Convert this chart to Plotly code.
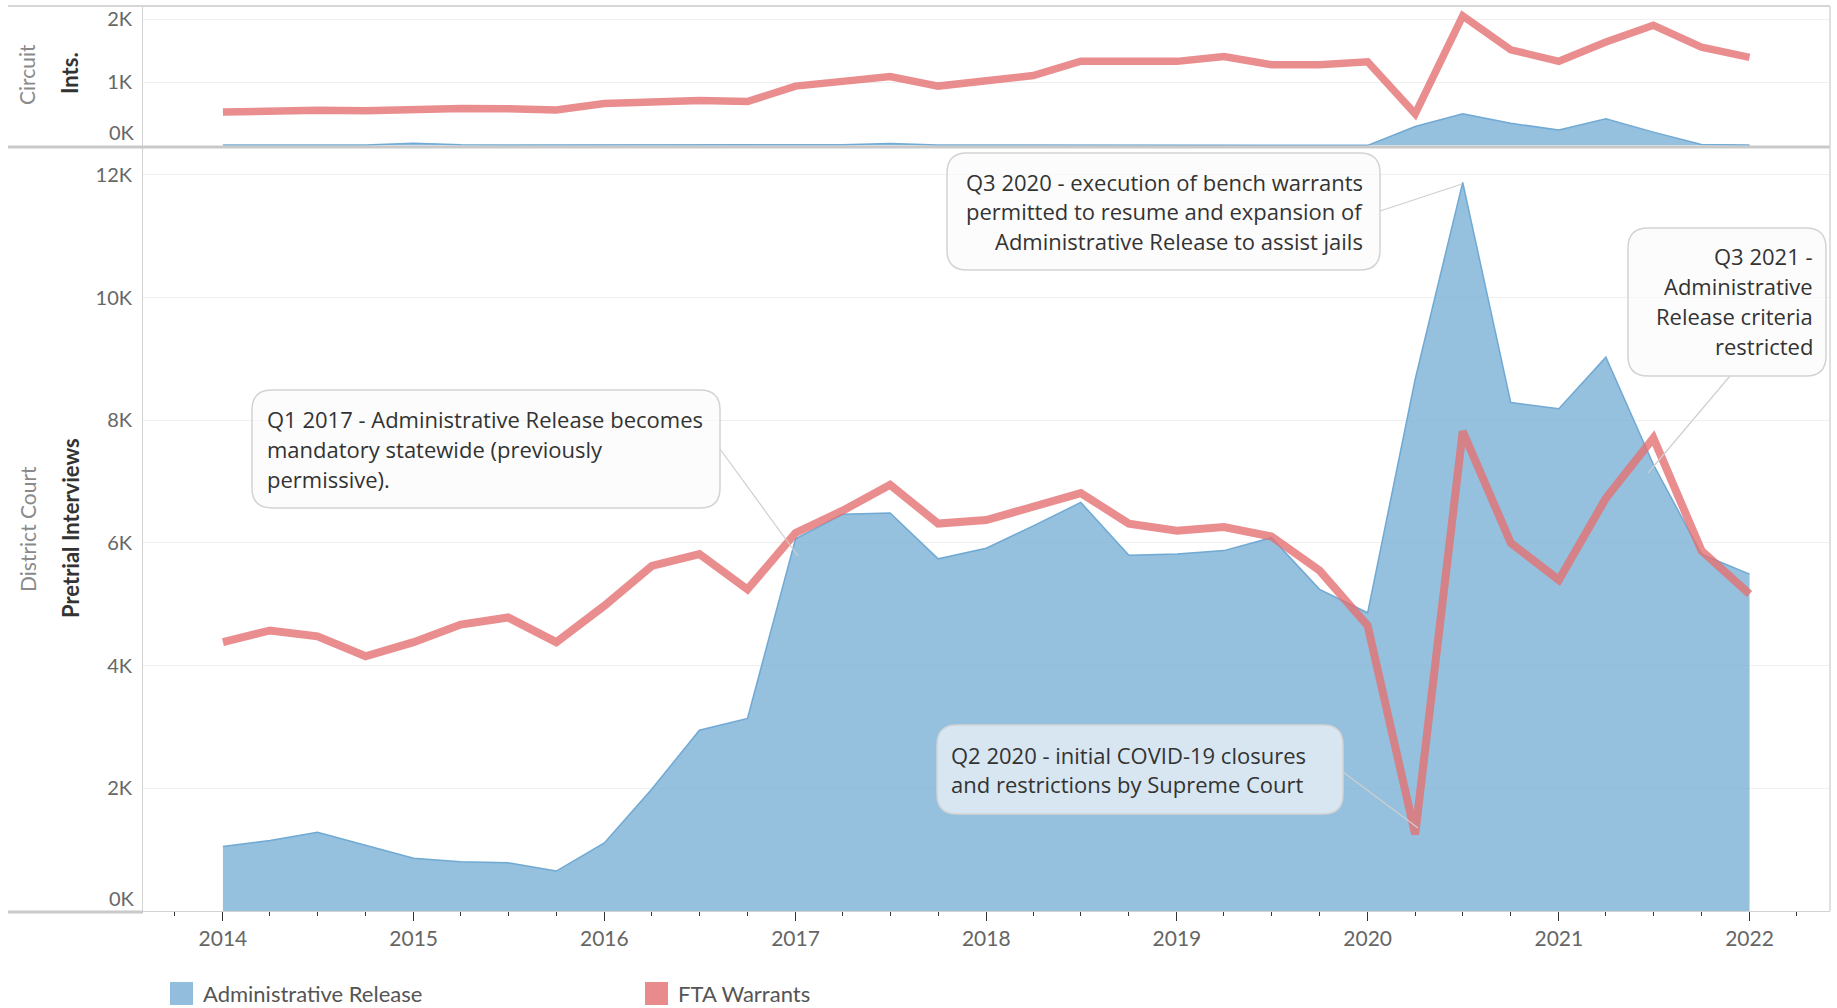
import plotly.graph_objects as go

# ---------------- data ----------------
quarters = [
    "2014-01-01", "2014-04-01", "2014-07-01", "2014-10-01",
    "2015-01-01", "2015-04-01", "2015-07-01", "2015-10-01",
    "2016-01-01", "2016-04-01", "2016-07-01", "2016-10-01",
    "2017-01-01", "2017-04-01", "2017-07-01", "2017-10-01",
    "2018-01-01", "2018-04-01", "2018-07-01", "2018-10-01",
    "2019-01-01", "2019-04-01", "2019-07-01", "2019-10-01",
    "2020-01-01", "2020-04-01", "2020-07-01", "2020-10-01",
    "2021-01-01", "2021-04-01", "2021-07-01", "2021-10-01",
    "2022-01-01",
]

district_admin = [1053, 1148, 1282, 1072, 861, 804, 785, 651,
                  1110, 1990, 2948, 3139, 6067, 6469, 6488, 5742,
                  5914, 6278, 6661, 5800, 5819, 5876, 6087, 5244,
                  4862, 8670, 11880, 8290, 8190, 9030, 7280, 5819,
                  5493]
district_fta = [4383, 4574, 4479, 4153, 4383, 4670, 4785, 4383,
                4976, 5627, 5819, 5244, 6163, 6527, 6948, 6316,
                6374, 6603, 6814, 6316, 6201, 6259, 6106, 5551,
                4651, 1250, 7820, 6000, 5397, 6730, 7710, 5876,
                5168]

circuit_admin = [5, 5, 5, 5, 35, 10, 5, 5,
                 5, 5, 5, 5, 5, 10, 30, 5,
                 5, 5, 5, 5, 5, 5, 5, 5,
                 0, 300, 500, 350, 245, 420, 210, 15,
                 5]
circuit_fta = [530, 550, 555, 550, 575, 585, 580, 560,
               665, 695, 710, 695, 940, 1015, 1090, 940,
               1015, 1108, 1334, 1343, 1332, 1410, 1280, 1278,
               1326, 500, 2052, 1515, 1333, 1638, 1905, 1558,
               1395]

district_ticks = [2000, 4000, 6000, 8000, 10000, 12000]
district_ticktext = ["2K", "4K", "6K", "8K", "10K", "12K"]
circuit_ticks = [1000, 2000]
circuit_ticktext = ["1K", "2K"]

series_names = ["Administrative Release", "FTA Warrants"]

callouts = [
    {"lines": ["Q1 2017 - Administrative Release becomes",
               "mandatory statewide (previously",
               "permissive)."],
     "box": (252, 390, 720, 508), "align": "left", "tx": 265,
     "ty": [419, 449, 479], "ptr": ((720, 449), (798, 556))},
    {"lines": ["Q3 2020 - execution of bench warrants",
               "permitted to resume and expansion of",
               "Administrative Release to assist jails"],
     "box": (947, 153, 1380, 270), "align": "right", "tx": 1365,
     "ty": [182, 211, 241], "ptr": ((1380, 211), (1462, 184))},
    {"lines": ["Q3 2021 -", "Administrative", "Release criteria", "restricted"],
     "box": (1628, 228, 1826, 376), "align": "right", "tx": 1815,
     "ty": [256, 286, 316, 346], "ptr": ((1730, 376), (1648, 473))},
    {"lines": ["Q2 2020 - initial COVID-19 closures",
               "and restrictions by Supreme Court"],
     "box": (937, 725, 1343, 814), "align": "left", "tx": 949,
     "ty": [755, 784], "ptr": ((1343, 772), (1418, 828))},
]

# ---------------- styling ----------------
W, H = 1837, 1008
PL, PR, PT, PB = 143, 1830, 6, 911
BLUE_FILL = "rgba(122,176,214,0.8)"
BLUE_LINE = "rgba(108,166,210,0.95)"
RED = "rgba(228,112,114,0.8)"
GRID = "#efefef"
TICKC = "#666666"


def px(x):
    return (x - PL) / (PR - PL)


def py(y):
    return (PB - y) / (PB - PT)


def rrect(x0, y0, x1, y1, r=20):
    def P(x, y):
        return f"{px(x):.5f},{py(y):.5f}"
    d = (f"M {P(x0 + r, y0)} L {P(x1 - r, y0)} Q {P(x1, y0)} {P(x1, y0 + r)} "
         f"L {P(x1, y1 - r)} Q {P(x1, y1)} {P(x1 - r, y1)} "
         f"L {P(x0 + r, y1)} Q {P(x0, y1)} {P(x0, y1 - r)} "
         f"L {P(x0, y0 + r)} Q {P(x0, y0)} {P(x0 + r, y0)} Z")
    return d


fig = go.Figure()

# top panel (Circuit)
fig.add_trace(go.Scatter(x=quarters, y=circuit_admin, xaxis="x2", yaxis="y2",
                         mode="lines", fill="tozeroy", fillcolor=BLUE_FILL,
                         line=dict(color=BLUE_LINE, width=1.5),
                         name=series_names[0], showlegend=False))
fig.add_trace(go.Scatter(x=quarters, y=circuit_fta, xaxis="x2", yaxis="y2",
                         mode="lines", line=dict(color=RED, width=7.5),
                         name=series_names[1], showlegend=False))
# bottom panel (District Court)
fig.add_trace(go.Scatter(x=quarters, y=district_admin, xaxis="x", yaxis="y",
                         mode="lines", fill="tozeroy", fillcolor=BLUE_FILL,
                         line=dict(color=BLUE_LINE, width=1.5),
                         name=series_names[0], showlegend=False))
fig.add_trace(go.Scatter(x=quarters, y=district_fta, xaxis="x", yaxis="y",
                         mode="lines", line=dict(color=RED, width=8),
                         name=series_names[1], showlegend=False))

top_dom0 = py(146)
bot_dom1 = py(148)

fig.update_layout(
    width=W, height=H,
    margin=dict(l=PL, r=W - PR, t=PT, b=H - PB),
    paper_bgcolor="white", plot_bgcolor="white",
    showlegend=False,
    font=dict(family="Lato", color=TICKC),
    xaxis=dict(domain=[0, 1], anchor="y", type="date",
               range=["2013-08-01", "2022-06-04"],
               tickformat="%Y", dtick="M12", tick0="2014-01-01",
               ticks="outside", ticklen=9, tickwidth=1, tickcolor="#333",
               minor=dict(dtick="M3", tick0="2014-01-01", ticks="outside",
                          ticklen=4, tickwidth=1, tickcolor="#333", showgrid=False),
               showgrid=False, zeroline=False, showline=True,
               linecolor="#d2d2d2", linewidth=1,
               tickfont=dict(family="Lato", size=21, color=TICKC)),
    xaxis2=dict(domain=[0, 1], anchor="y2", matches="x", type="date",
                showticklabels=False, ticks="", showgrid=False,
                zeroline=False, showline=False),
    yaxis=dict(domain=[0, bot_dom1], anchor="x", range=[0, 12440],
               tickvals=district_ticks, ticktext=district_ticktext,
               showgrid=True, gridcolor=GRID, gridwidth=1, zeroline=False,
               showline=True, linecolor="#d2d2d2", linewidth=1, ticks="",
               ticklabelstandoff=6,
               tickfont=dict(family="Lato", size=20, color=TICKC)),
    yaxis2=dict(domain=[top_dom0, 1], anchor="x2", range=[-10, 2210],
                tickvals=circuit_ticks, ticktext=circuit_ticktext,
                showgrid=True, gridcolor=GRID, gridwidth=1, zeroline=False,
                showline=True, linecolor="#d2d2d2", linewidth=1, ticks="",
                ticklabelstandoff=6,
                tickfont=dict(family="Lato", size=20, color=TICKC)),
)

shapes = []
# frame / separators
shapes.append(dict(type="line", xref="paper", yref="paper", x0=px(8), x1=px(PR),
                   y0=py(6), y1=py(6), line=dict(color="#d6d6d6", width=2)))
shapes.append(dict(type="line", xref="paper", yref="paper", x0=px(8), x1=px(PR),
                   y0=py(147), y1=py(147), line=dict(color="#c9c9c9", width=3)))
shapes.append(dict(type="line", xref="paper", yref="paper", x0=px(8), x1=px(PL),
                   y0=py(912), y1=py(912), line=dict(color="#c9c9c9", width=3)))
shapes.append(dict(type="line", xref="paper", yref="paper", x0=px(PR), x1=px(PR),
                   y0=py(6), y1=py(PB), line=dict(color="#d6d6d6", width=1.5)))

annotations = []
# zero labels shifted inside panels (as in reference)
annotations.append(dict(text="0K", xref="paper", yref="y", x=0, y=0, xanchor="right",
                        yanchor="middle", xshift=-6, yshift=13, showarrow=False,
                        font=dict(family="Lato", size=20, color=TICKC)))
annotations.append(dict(text="0K", xref="paper", yref="y2", x=0, y=0, xanchor="right",
                        yanchor="middle", xshift=-6, yshift=13, showarrow=False,
                        font=dict(family="Lato", size=20, color=TICKC)))

# row headers
for txt, xx, yy, bold in [("Circuit", 27, 74, False), ("Ints.", 70, 73, True),
                          ("District Court", 28, 529, False),
                          ("Pretrial Interviews", 70, 528, True)]:
    annotations.append(dict(
        text=f"<b>{txt}</b>" if bold else txt, xref="paper", yref="paper",
        x=px(xx), y=py(yy), xanchor="center", yanchor="middle", textangle=-90,
        showarrow=False,
        font=dict(family="Lato", size=21 if not bold else 22,
                  color="#333333" if bold else "#8a8a8a")))

# callouts
for c in callouts:
    (ax0, ay0), (ax1, ay1) = c["ptr"]
    shapes.append(dict(type="line", xref="paper", yref="paper",
                       x0=px(ax0), y0=py(ay0), x1=px(ax1), y1=py(ay1),
                       line=dict(color="#cfcfcf", width=1.2), layer="above"))
for c in callouts:
    bx0, by0, bx1, by1 = c["box"]
    shapes.append(dict(type="path", xref="paper", yref="paper",
                       path=rrect(bx0, by0, bx1, by1, 20),
                       fillcolor="rgba(250,250,250,0.65)",
                       line=dict(color="#d3d3d3", width=1.5), layer="above"))
    for line_txt, ty in zip(c["lines"], c["ty"]):
        annotations.append(dict(
            text=line_txt, xref="paper", yref="paper", x=px(c["tx"]), y=py(ty),
            xanchor=c["align"], yanchor="middle", showarrow=False,
            font=dict(family="Open Sans", size=22, color="#333333")))

# legend
legend_items = [(series_names[0], "#92bddd", 170), (series_names[1], "#e98b8c", 645)]
for name, col, lx in legend_items:
    shapes.append(dict(type="rect", xref="paper", yref="paper",
                       x0=px(lx), x1=px(lx + 23), y0=py(982), y1=py(1005),
                       fillcolor=col, line=dict(width=0)))
    annotations.append(dict(text=name, xref="paper", yref="paper",
                            x=px(lx + 31), y=py(993), xanchor="left", yanchor="middle",
                            showarrow=False,
                            font=dict(family="Lato", size=22, color="#555555")))

fig.update_layout(shapes=shapes, annotations=annotations)

fig.write_html("out.html", config={"displayModeBar": False},
               post_script="document.body.style.margin='0';document.body.style.overflow='hidden';")
